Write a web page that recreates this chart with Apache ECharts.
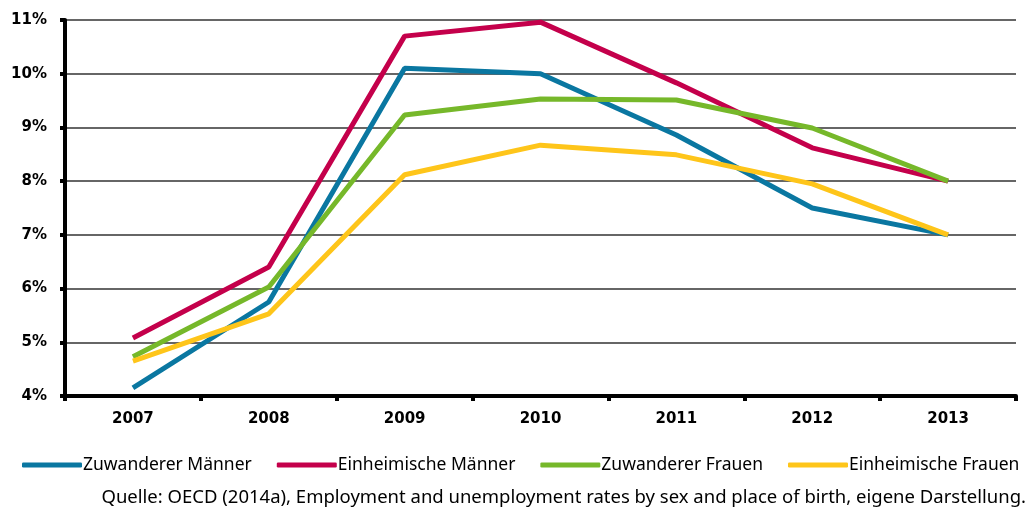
<!DOCTYPE html>
<html>
<head>
<meta charset="utf-8">
<script src="https://cdn.jsdelivr.net/npm/echarts@6/dist/echarts.min.js"></script>
<style>
  html, body { margin: 0; padding: 0; background: #fff; }
  #chart { width: 1026px; height: 511px; }
</style>
</head>
<body>
<div id="chart"></div>
<script>
// Jahre
const years = ['2007', '2008', '2009', '2010', '2011', '2012', '2013'];

// Arbeitslosenquoten in %
const zuwandererMaenner = [4.15, 5.75, 10.1, 10.0, 8.86, 7.5, 7.0];
const einheimischeMaenner = [5.08, 6.4, 10.7, 10.96, 9.83, 8.62, 8.0];
const zuwandererFrauen = [4.73, 6.03, 9.23, 9.53, 9.51, 8.99, 8.0];
const einheimischeFrauen = [4.65, 5.53, 8.12, 8.67, 8.49, 7.95, 7.0];

const seriesNames = ['Zuwanderer Männer', 'Einheimische Männer', 'Zuwanderer Frauen', 'Einheimische Frauen'];
const seriesColors = ['#0a77a1', '#c4004b', '#76b82a', '#fec51a'];
const seriesData = [zuwandererMaenner, einheimischeMaenner, zuwandererFrauen, einheimischeFrauen];

const sourceText = 'Quelle: OECD (2014a), Employment and unemployment rates by sex and place of birth, eigene Darstellung.';

let chart = echarts.init(document.getElementById('chart'));

let option = {
  backgroundColor: '#fff',
  animation: false,
  grid: {
    left: 65,
    right: 10,
    top: 20,
    bottom: 115
  },
  legend: {
    left: 22,
    top: 456,
    padding: 0,
    itemWidth: 60,
    itemHeight: 5,
    itemGap: 25,
    icon: 'roundRect',
    textStyle: {
      fontFamily: 'Noto Sans',
      fontSize: 17.5,
      color: '#000',
      padding: [0, 0, 0, -4]
    },
    data: seriesNames
  },
  xAxis: {
    type: 'category',
    data: years,
    axisLine: { lineStyle: { color: '#000', width: 4 } },
    axisTick: { show: true, length: 5, lineStyle: { color: '#000', width: 4 } },
    axisLabel: {
      color: '#000',
      fontFamily: 'DejaVu Sans',
      fontWeight: 'bold',
      fontSize: 15,
      margin: 16
    }
  },
  yAxis: {
    type: 'value',
    min: 4,
    max: 11,
    interval: 1,
    axisLine: { show: true, lineStyle: { color: '#000', width: 4 } },
    axisTick: { show: true, length: 5, lineStyle: { color: '#000', width: 4 } },
    splitLine: { lineStyle: { color: '#333', width: 1.5 } },
    axisLabel: {
      formatter: '{value}%',
      color: '#000',
      fontFamily: 'DejaVu Sans',
      fontWeight: 'bold',
      fontSize: 15,
      margin: 18
    }
  },
  series: seriesNames.map(function (name, i) {
    return {
      name: name,
      type: 'line',
      data: seriesData[i],
      showSymbol: false,
      symbol: 'none',
      color: seriesColors[i],
      lineStyle: { width: 5, color: seriesColors[i] }
    };
  }),
  graphic: [
    {
      type: 'text',
      right: 0,
      top: 488,
      style: {
        text: sourceText,
        fontFamily: 'Noto Sans',
        fontSize: 18.5,
        fill: '#000'
      }
    }
  ]
};

chart.setOption(option);
</script>
</body>
</html>
